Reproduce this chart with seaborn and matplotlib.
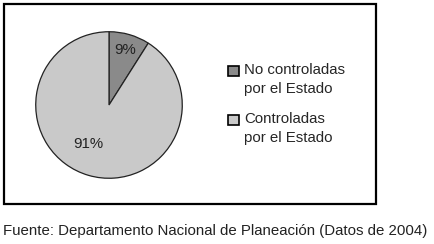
import numpy as np
import seaborn as sns
import matplotlib.pyplot as plt
from matplotlib.patches import Patch, Rectangle
from matplotlib.legend_handler import HandlerPatch

sns.set_style("white")
plt.rcParams.update({
    "font.family": ["Liberation Sans", "DejaVu Sans"],
})

categories = ["No controladas\npor el Estado", "Controladas\npor el Estado"]
shares = [9, 91]
colors = ["#8a8a8a", "#c9c9c9"]
source = "Fuente: Departamento Nacional de Planeación (Datos de 2004)"

fig = plt.figure(figsize=(4.34, 2.44), dpi=100)

# outer frame
fig.patches.append(Rectangle((4 / 434, 1 - 204 / 244), 372 / 434, 200 / 244,
                             transform=fig.transFigure, fill=False,
                             edgecolor="black", linewidth=1.6))

ax = fig.add_axes([35 / 434, 1 - 179 / 244, 148 / 434, 148 / 244])
wedges, texts, autotexts = ax.pie(
    shares, colors=colors, startangle=90, counterclock=False,
    autopct="%d%%", pctdistance=0.78,
    wedgeprops={"edgecolor": "#222222", "linewidth": 0.9},
    textprops={"fontsize": 10.8, "color": "#222222"},
)
# move the big slice label down-left like the original
ang = np.deg2rad(-118)
autotexts[1].set_position((0.61 * np.cos(ang), 0.61 * np.sin(ang)))
ax.set_xlim(-1.01, 1.01)
ax.set_ylim(-1.01, 1.01)
ax.set_aspect("equal")


# square sits next to the first line of the label, not the middle
def top_square(legend, orig_handle, xdescent, ydescent, width, height, fontsize):
    return Rectangle((-xdescent, -ydescent + 0.6 * fontsize), width, height)


handles = [Patch(facecolor=c, edgecolor="black", linewidth=1.2) for c in colors]
leg = fig.legend(handles, categories, loc="upper left",
                 bbox_to_anchor=(221 / 434, 1 - 56 / 244), frameon=False,
                 fontsize=10.8, handlelength=0.7, handleheight=0.7,
                 handletextpad=0.35, labelspacing=1.1, borderpad=0,
                 handler_map={Patch: HandlerPatch(patch_func=top_square)})
for t in leg.get_texts():
    t.set_linespacing(1.4)

fig.text(3 / 434, 1 - 231 / 244, source, fontsize=10.8, color="#222222",
         va="center", ha="left")

fig.savefig("out.png", dpi=100)
